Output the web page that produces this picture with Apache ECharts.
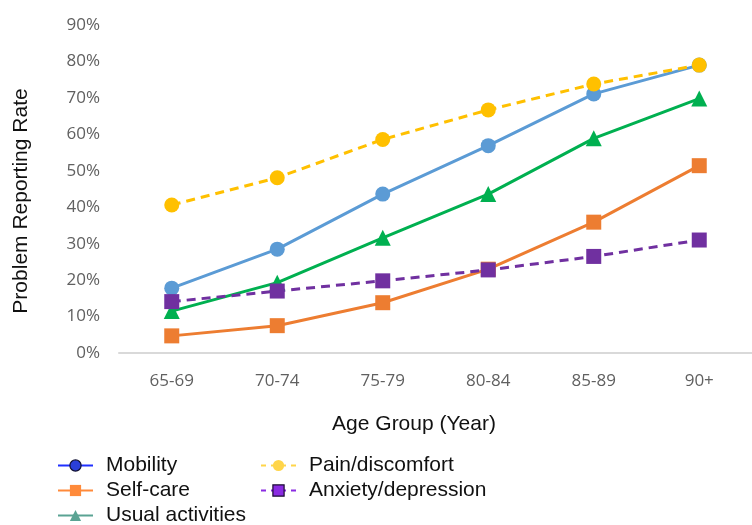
<!DOCTYPE html>
<html>
<head>
<meta charset="utf-8">
<script src="https://cdn.jsdelivr.net/npm/echarts@6/dist/echarts.min.js"></script>
<style>
  html, body { margin: 0; padding: 0; background: #fff; }
  #chart { width: 752px; height: 525px; }
</style>
</head>
<body>
<div id="chart"></div>
<script>
// Age groups on the x axis
const ageGroups = ['65-69', '70-74', '75-79', '80-84', '85-89', '90+'];

// Share of respondents reporting a problem, in percent
const mobility = [17.8, 28.5, 43.6, 56.9, 71.1, 79.0];
const selfCare = [4.7, 7.5, 13.8, 23.0, 35.9, 51.4];
const usualActivities = [11.5, 19.3, 31.6, 43.6, 58.9, 69.8];
const painDiscomfort = [40.6, 48.1, 58.6, 66.7, 73.8, 79.0];
const anxietyDepression = [14.1, 17.0, 19.8, 22.8, 26.5, 31.0];

// Y axis range and step, in percent
const yMin = 0, yMax = 90, yStep = 10;

const titleFont = 'Liberation Sans, Arial, sans-serif';
const tickFont = 'Open Sans, Noto Sans, sans-serif';

function lineSeries(name, data, color, symbol, dashed) {
  return {
    name: name,
    type: 'line',
    data: data,
    symbol: symbol,
    symbolSize: symbol === 'triangle' ? 16 : 15,
    showSymbol: true,
    lineStyle: { color: color, width: 3, type: dashed ? [9, 6] : 'solid' },
    itemStyle: { color: color, borderWidth: 0 },
    emphasis: { disabled: true },
    animation: false
  };
}

const chart = echarts.init(document.getElementById('chart'), null, { renderer: 'canvas' });

const legendText = {
  fontFamily: titleFont,
  fontSize: 21,
  color: '#111',
  lineHeight: 21,
  padding: [0, 0, 0, 8]
};

// Shared settings for the two legend columns
const legendBase = {
  orient: 'vertical',
  top: 455,
  height: 90,
  padding: 0,
  itemWidth: 35, itemHeight: 14, itemGap: 4,
  selectedMode: false,
  textStyle: legendText
};

chart.setOption({
  backgroundColor: '#ffffff',
  animation: false,
  grid: { left: 119, right: -7, top: 25, bottom: 172, containLabel: false },
  xAxis: {
    type: 'category',
    data: ageGroups,
    boundaryGap: true,
    axisLine: { show: true, lineStyle: { color: '#d9d9d9', width: 2 } },
    axisTick: { show: false },
    axisLabel: { color: '#606060', fontFamily: tickFont, fontSize: 17, margin: 20 },
    splitLine: { show: false }
  },
  yAxis: {
    type: 'value',
    min: yMin,
    max: yMax,
    interval: yStep,
    axisLine: { show: false },
    axisTick: { show: false },
    splitLine: { show: false },
    axisLabel: {
      color: '#606060', fontFamily: tickFont, fontSize: 17, margin: 19,
      formatter: '{value}%'
    }
  },
  legend: [
    Object.assign({}, legendBase, {
      left: 57,
      data: [
        { name: 'Mobility', itemStyle: { color: '#2a3fd8', borderColor: '#111133', borderWidth: 1.2 },
          lineStyle: { color: '#2030ff', width: 2, type: 'solid' } },
        { name: 'Self-care', itemStyle: { color: '#ff8a3a', borderWidth: 0 },
          lineStyle: { color: '#ff8a3a', width: 2, type: 'solid' } },
        { name: 'Usual activities', itemStyle: { color: '#5aa393', borderWidth: 0 },
          lineStyle: { color: '#5aa393', width: 2, type: 'solid' } }
      ]
    }),
    Object.assign({}, legendBase, {
      left: 260,
      data: [
        { name: 'Pain/discomfort', itemStyle: { color: '#ffd54a', borderWidth: 0 },
          lineStyle: { color: '#ffd54a', width: 2, type: [5, 5] } },
        { name: 'Anxiety/depression', itemStyle: { color: '#8a2be2', borderColor: '#1a0a33', borderWidth: 1.2 },
          lineStyle: { color: '#8a2be2', width: 2, type: [5, 5] } }
      ]
    })
  ],
  graphic: [
    {
      type: 'text',
      x: 21, y: 201,
      rotation: Math.PI / 2,
      silent: true,
      style: {
        text: 'Problem Reporting Rate',
        fontFamily: titleFont, fontSize: 21, fill: '#111',
        align: 'center', verticalAlign: 'middle'
      }
    },
    {
      type: 'text',
      x: 414, y: 424,
      silent: true,
      style: {
        text: 'Age Group (Year)',
        fontFamily: titleFont, fontSize: 21, fill: '#111',
        align: 'center', verticalAlign: 'middle'
      }
    }
  ],
  series: [
    lineSeries('Mobility', mobility, '#5b9bd5', 'circle', false),
    lineSeries('Self-care', selfCare, '#ed7d31', 'rect', false),
    lineSeries('Usual activities', usualActivities, '#00b050', 'triangle', false),
    lineSeries('Pain/discomfort', painDiscomfort, '#ffc000', 'circle', true),
    lineSeries('Anxiety/depression', anxietyDepression, '#7030a0', 'rect', true)
  ]
});
</script>
</body>
</html>
